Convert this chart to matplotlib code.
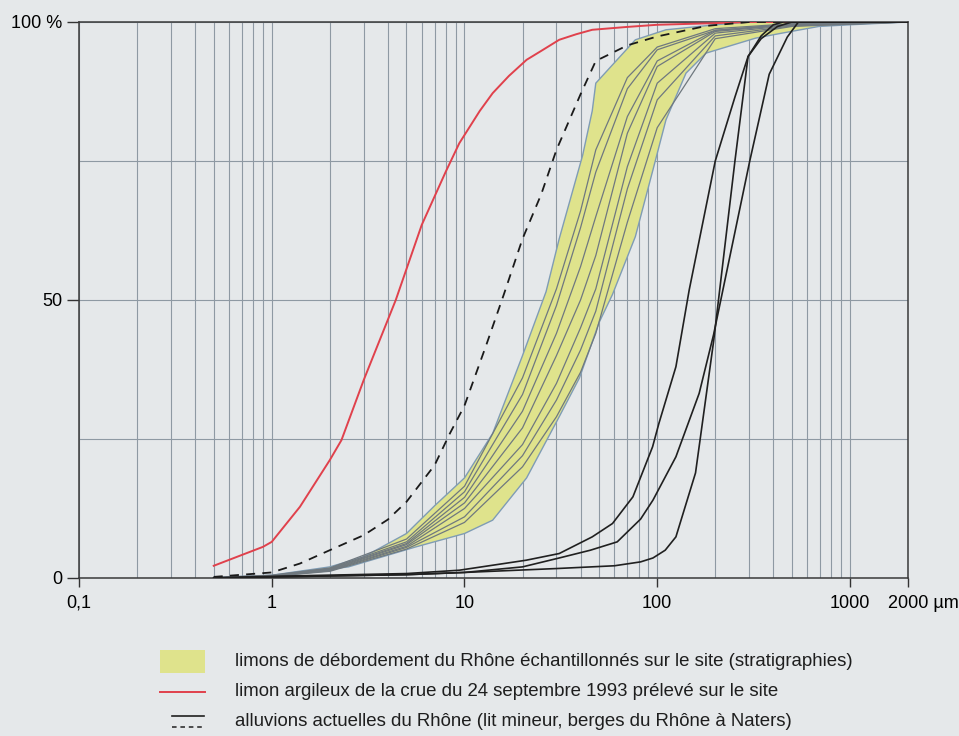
import matplotlib
matplotlib.use("Agg")
import matplotlib.pyplot as plt
from matplotlib.lines import Line2D
from matplotlib.patches import Rectangle
from matplotlib.ticker import FixedLocator, NullFormatter
from matplotlib.transforms import ScaledTranslation
import numpy as np

# grain size (µm) and cumulative percentage of each sample
limon_crue_x = [0.5, 0.9, 1.0, 1.4, 2.0, 2.3, 3.0, 4.4, 6.0, 8.0, 9.4, 12, 14, 17, 21, 25, 31, 38, 46, 69, 100, 200, 300, 2000]
limon_crue_y = [2.2, 5.6, 6.5, 12.8, 21.2, 24.8, 35.6, 50, 63.5, 73.1, 78.2, 84, 87.2, 90.3, 93.2, 94.8, 96.8, 97.8, 98.6, 99.1, 99.5, 99.8, 100, 100]

pointille_x = [0.5, 1.0, 1.4, 2.0, 3.0, 4.0, 5.0, 7.0, 8.4, 10, 13, 16, 20, 25, 30, 40, 48, 55, 70, 100, 180, 300, 2000]
pointille_y = [0.2, 1.0, 2.6, 5.0, 7.7, 10.5, 13.7, 20.3, 26, 31, 42, 51, 61, 69, 77, 87, 93, 94, 95.8, 97.4, 99.3, 100, 100]

# overbank silts: envelope of all samples
bande_haut_x = [0.5, 1, 2, 3, 5, 7, 10, 14, 20, 26.5, 31, 41, 46, 48, 77, 111, 200, 300, 2000]
bande_haut_y = [0.1, 0.5, 2, 3.8, 8, 13, 18, 26, 40, 51.5, 61, 76, 84, 89, 96.8, 98.6, 99.5, 100, 100]
bande_bas_x = [0.5, 1, 2.5, 5.6, 10, 14, 21, 31, 39.5, 50, 58.6, 77, 95, 111, 141, 179, 324, 444, 690, 1000, 2000]
bande_bas_y = [0, 0.3, 2, 5.6, 8, 10.4, 18, 29, 36, 46, 51, 61.4, 73.4, 82.4, 90.8, 94.4, 97.1, 98, 99.2, 99.5, 100]

# individual overbank samples
echant_x = [0.5, 1, 2, 5, 10, 20, 30, 40, 48, 70, 100, 200, 500, 2000]
echant_1 = [0.1, 0.5, 1.8, 7, 16.5, 36, 52, 66, 77, 90, 95.5, 98.8, 99.7, 100]
echant_2 = [0.1, 0.4, 1.7, 6.5, 15.5, 33, 49, 63, 73, 88, 95, 98.5, 99.6, 100]
echant_3 = [0, 0.4, 1.6, 6.2, 14.5, 30, 44, 56, 65, 83, 93, 98.5, 99.6, 100]
echant_4 = [0, 0.4, 1.5, 6, 13.5, 27, 40, 50, 58, 80, 92, 98.3, 99.5, 100]
echant_5 = [0, 0.3, 1.4, 5.7, 12.5, 24, 35, 45, 52, 74, 89, 98, 99.4, 100]
echant_6 = [0, 0.3, 1.3, 5.5, 11, 22, 32, 41, 48, 70, 86, 97.5, 99.3, 100]
echant_7 = [0, 0.3, 1.2, 5.2, 10, 20, 29, 37, 44, 64, 81, 97, 99.2, 100]
echantillons = [echant_1, echant_2, echant_3, echant_4, echant_5, echant_6, echant_7]

# present-day Rhône alluvium (Naters)
alluv_a_x = [0.5, 1, 5, 9.4, 20.9, 31, 46, 58.6, 74.8, 94.6, 102, 125, 146.5, 200, 253, 296, 346, 421, 500, 2000]
alluv_a_y = [0, 0.3, 0.8, 1.4, 3.2, 4.4, 7.4, 9.8, 14.6, 23.6, 27.8, 38, 51.8, 75, 86.5, 93.8, 97, 99.2, 100, 100]
alluv_b_x = [0.5, 1, 5, 10, 20, 31, 45, 62, 82, 95, 125, 165, 196, 302, 381, 473, 540, 2000]
alluv_b_y = [0, 0.2, 0.6, 1.0, 2.0, 3.6, 5.0, 6.5, 10.6, 14, 21.8, 33.2, 43.75, 75, 90.6, 97.3, 100, 100]
alluv_c_x = [0.5, 1, 5, 10, 30, 60, 82, 95, 110, 125, 158, 196, 253, 296, 346, 400, 450, 2000]
alluv_c_y = [0, 0.2, 0.6, 1.0, 1.7, 2.2, 2.9, 3.6, 5, 7.4, 18.9, 42.5, 75, 93.8, 97.5, 99.5, 100, 100]

x_ticks = [0.1, 1, 10, 100, 1000, 2000]
x_labels = ["0,1", "1", "10", "100", "1000", "2000 µm"]
y_ticks = [0, 50, 100]
y_labels = ["0", "50", "100 %"]

legende = [
    "limons de débordement du Rhône échantillonnés sur le site (stratigraphies)",
    "limon argileux de la crue du 24 septembre 1993 prélevé sur le site",
    "alluvions actuelles du Rhône (lit mineur, berges du Rhône à Naters)",
]

fond = "#e5e8ea"
grille = "#8e99a3"

plt.rcParams["font.family"] = ["Liberation Sans", "DejaVu Sans"]

W, H = 959, 736
fig = plt.figure(figsize=(W / 100, H / 100), dpi=100, facecolor=fond)
ax = fig.add_axes([79 / W, 1 - 578 / H, (908 - 79) / W, (578 - 22) / H])
ax.set_facecolor(fond)
ax.set_xscale("log")
ax.set_xlim(0.1, 2000)
ax.set_ylim(0, 100)

# grid: every log subdivision vertically, quarters horizontally
minor_x = [m * 10.0 ** e for e in range(-1, 3) for m in range(2, 10)]
ax.xaxis.set_minor_locator(FixedLocator(minor_x))
ax.xaxis.set_minor_formatter(NullFormatter())
ax.yaxis.set_minor_locator(FixedLocator([25, 75]))
ax.grid(which="both", color=grille, lw=0.8)
ax.set_axisbelow(True)

ax.set_xticks(x_ticks)
ax.set_xticklabels(x_labels)
ax.set_yticks(y_ticks)
ax.set_yticklabels(y_labels)
ax.tick_params(which="minor", length=0)
ax.tick_params(axis="x", which="major", length=6.5, width=1, pad=5.5, labelsize=13, color="#333333")
ax.tick_params(axis="y", which="major", length=8.6, width=1, pad=3.5, labelsize=13, color="#333333")
for s in ax.spines.values():
    s.set_color("#3a3a3a")
    s.set_linewidth(1.1)

# keep "2000" centred on its tick, the unit trailing to the right
last = ax.get_xticklabels()[-1]
last.set_horizontalalignment("left")
last.set_transform(last.get_transform() + ScaledTranslation(-0.205, 0, fig.dpi_scale_trans))

# yellow envelope of overbank samples
poly_x = np.concatenate([bande_haut_x, bande_bas_x[::-1]])
poly_y = np.concatenate([bande_haut_y, bande_bas_y[::-1]])
ax.fill(poly_x, poly_y, color="#dfe38c", lw=0, zorder=2)
ax.plot(bande_haut_x, bande_haut_y, color="#7f9cb5", lw=1.0, zorder=3)
ax.plot(bande_bas_x, bande_bas_y, color="#7f9cb5", lw=1.0, zorder=3)
for e in echantillons:
    ax.plot(echant_x, e, color="#6f787f", lw=0.9, zorder=3)

ax.plot(limon_crue_x, limon_crue_y, color="#e0414c", lw=1.4, zorder=4)
ax.plot(pointille_x, pointille_y, color="#1a1a1a", lw=1.3, ls=(0, (5, 4)), zorder=4)
for xs, ys in [(alluv_a_x, alluv_a_y), (alluv_b_x, alluv_b_y), (alluv_c_x, alluv_c_y)]:
    ax.plot(xs, ys, color="#202020", lw=1.2, zorder=4)


def fx(px):
    return px / W


def fy(py):
    return 1 - py / H


# legend below the chart
fig.add_artist(Rectangle((fx(160), fy(673)), fx(205) - fx(160), fy(650) - fy(673),
                         transform=fig.transFigure, color="#dfe38c", lw=0))
fig.add_artist(Line2D([fx(160), fx(205)], [fy(692), fy(692)], transform=fig.transFigure,
                      color="#e0414c", lw=1.4))
fig.add_artist(Line2D([fx(172), fx(204)], [fy(716), fy(716)], transform=fig.transFigure,
                      color="#202020", lw=1.2))
fig.add_artist(Line2D([fx(172), fx(204)], [fy(727), fy(727)], transform=fig.transFigure,
                      color="#202020", lw=1.1, ls=(0, (3, 2.5))))
for txt, py in zip(legende, [662, 692, 721]):
    fig.text(fx(235), fy(py), txt, ha="left", va="center", fontsize=13.4, color="#1e1e1e")

fig.savefig("out.png", dpi=100, facecolor=fond)
